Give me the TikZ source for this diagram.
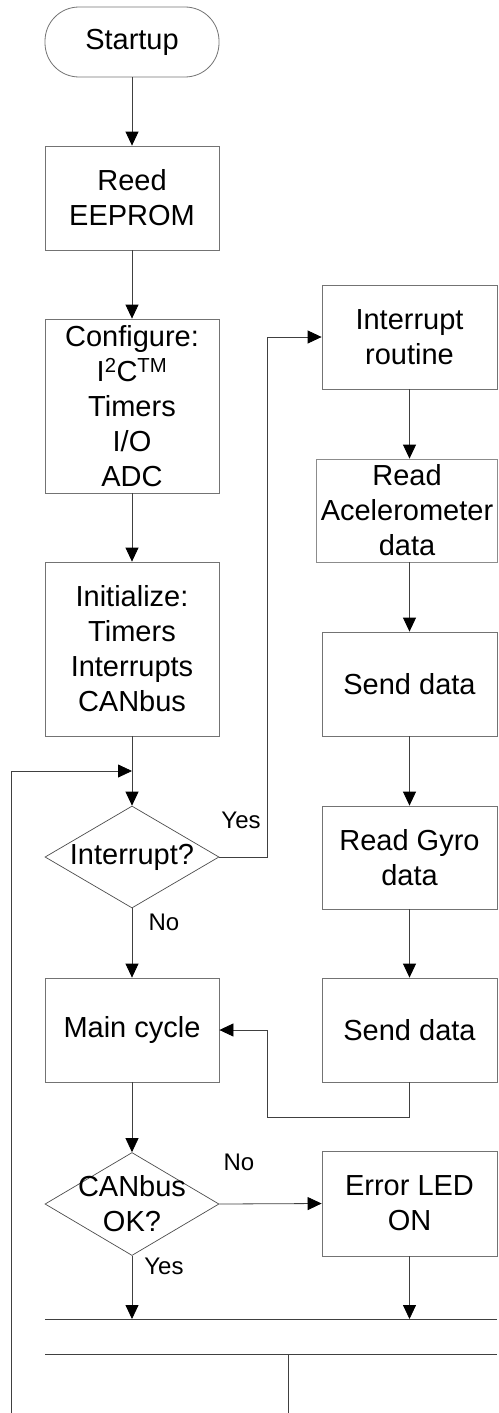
\documentclass[tikz,border=0pt]{standalone}
\usepackage{fontspec}
\setmainfont{Liberation Sans}
\usetikzlibrary{arrows.meta,shapes.geometric}
\begin{document}
\begin{tikzpicture}[x=1pt,y=-1pt,
  box/.style={draw=black!55,line width=0.8pt,rectangle,inner sep=0pt,align=center,
    font=\fontsize{29}{35}\selectfont},
  term/.style={box,rounded corners=34pt},
  decision/.style={draw=black!70,line width=0.7pt,diamond,inner sep=0pt,minimum width=174pt,minimum height=102pt},
  dtext/.style={align=center,inner sep=0pt,font=\fontsize{29}{35}\selectfont},
  lbl/.style={inner sep=0pt,font=\fontsize{24}{28}\selectfont},
  conn/.style={draw=black!75,line width=0.8pt},
  arr/.style={conn,-{Triangle[length=14pt,width=13pt,color=black,fill=black]}}
]
\useasboundingbox (0,0) rectangle (498,1413);
% left column
\node[term,minimum width=174pt,minimum height=70pt] (start) at (132,42) {Startup};
\node[box,minimum width=174pt,minimum height=104pt] (reed) at (132,198) {Reed\\EEPROM};
\node[box,minimum width=174pt,minimum height=174pt] (conf) at (132,406) {Configure:\\I\textsuperscript{2}C\textsuperscript{TM}\\Timers\\I/O\\ADC};
\node[box,minimum width=174pt,minimum height=174pt] (init) at (132,649) {Initialize:\\Timers\\Interrupts\\CANbus};
\node[decision] (intq) at (132,857) {};
\node[dtext] (intqt) at (intq.center) {Interrupt?};
\node[box,minimum width=174pt,minimum height=104pt] (mainc) at (132,1030) {Main cycle};
\node[decision,minimum height=103pt] (canq) at (132,1204) {};
\node[dtext] (canqt) at (canq.center) {CANbus\\OK?};
% right column
\node[box,minimum width=175pt,minimum height=104pt] (irout) at (409.5,337) {Interrupt\\routine};
\node[box,draw=black!45,minimum width=181pt,minimum height=103pt] (racc) at (407,510.5) {Read\\Acelerometer\\data};
\node[box,minimum width=175pt,minimum height=104pt] (send1) at (409.5,684) {Send data};
\node[box,minimum width=175pt,minimum height=103pt] (rgyro) at (409.5,857.5) {Read Gyro\\data};
\node[box,minimum width=175pt,minimum height=104pt] (send2) at (409.5,1030) {Send data};
\node[box,minimum width=175pt,minimum height=105pt] (err) at (409.5,1203.5) {Error LED\\ON};
% labels
\node[lbl] (yes1) at (241,820) {Yes};
\node[lbl] (no1) at (164,922) {No};
\node[lbl] (no2) at (239,1162) {No};
\node[lbl] (yes2) at (164,1266) {Yes};
% helper coordinates
\coordinate (merge) at (132,771);
\coordinate (loopbot) at (11,1413);
\coordinate (ret) at (267,1030);
\coordinate (busA) at (132,1319);
\coordinate (busB) at (409.5,1319);
\coordinate (busL) at (45,1319);
\coordinate (busR) at (497,1319);
\coordinate (bus2L) at (45,1354);
\coordinate (bus2R) at (497,1354);
\coordinate (bus2M) at (288,1354);
\coordinate (bus2B) at (288,1413);
% connectors
\draw[arr] (start) -- (reed);
\draw[arr] (reed) -- (conf);
\draw[arr] (conf) -- (init);
\draw[arr] (init) -- (intq.north);
\draw[arr] (loopbot) |- (merge);
\draw[arr] (intq.east) -- ++(48,0) |- (irout.west);
\draw[arr] (intq.south) -- (mainc.north);
\draw[arr] (irout) -- (racc.north -| irout.south);
\draw[arr] (racc.south -| irout.south) -- (send1);
\draw[arr] (send1) -- (rgyro);
\draw[arr] (rgyro) -- (send2);
\draw[arr] (send2.south) -- ++(0,35) -| (ret) -- (mainc.east);
\draw[arr] (mainc) -- (canq.north);
\draw[arr] (canq.east) -- (err.west);
\draw[arr] (canq.south) -- (busA);
\draw[arr] (err.south) -- (busB);
\draw[conn] (busL) -- (busR);
\draw[conn] (bus2L) -- (bus2R);
\draw[conn] (bus2M) -- (bus2B);
\end{tikzpicture}
\end{document}
